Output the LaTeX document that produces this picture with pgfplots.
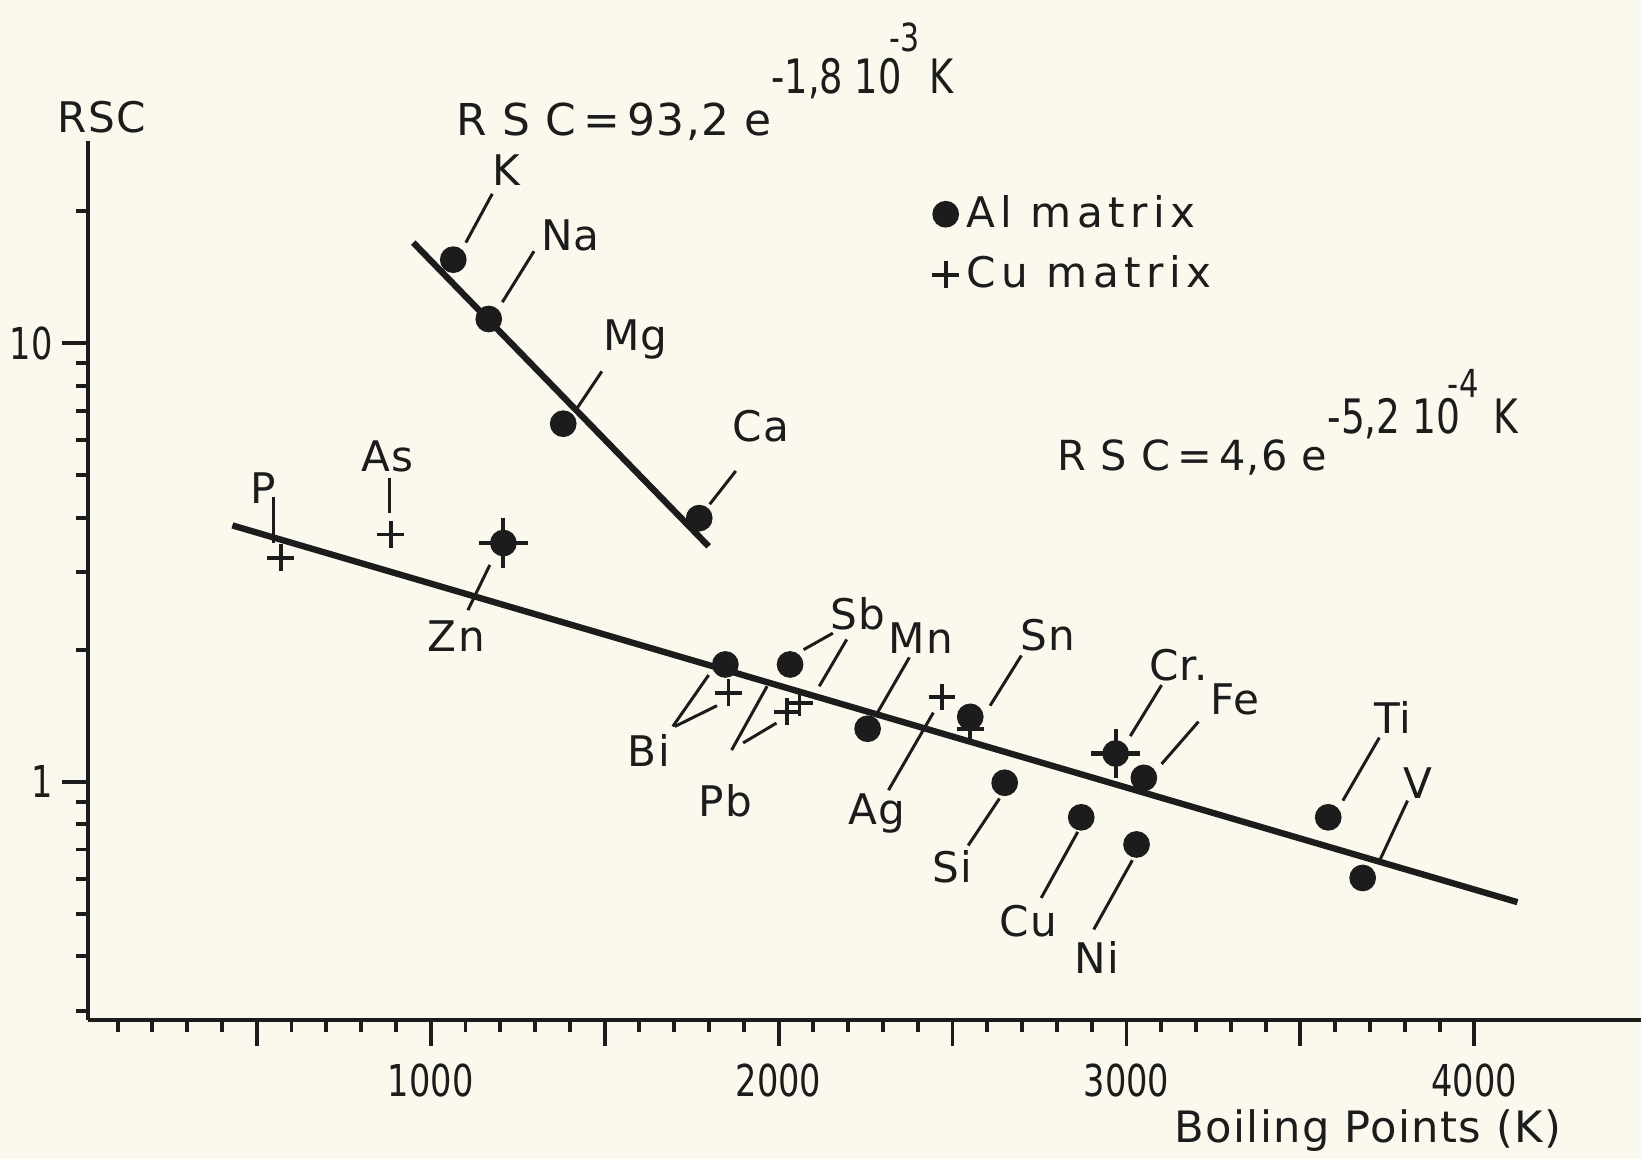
\documentclass[border=0pt]{standalone}
\usepackage{pgfplots}
\pgfplotsset{compat=1.18}
\usepackage{fontspec}
\setmainfont{DejaVu Sans}[LetterSpace=3]
\newfontfamily\narrow{DejaVu Sans Condensed}
\newfontfamily\wide{DejaVu Sans}[LetterSpace=13]
\definecolor{paper}{RGB}{251,249,238}
\definecolor{ink}{RGB}{28,28,28}
% tall, narrow figures as in the stencilled original
\newcommand\num[1]{\scalebox{0.85}[1]{\narrow\fontsize{12.5}{15}\selectfont #1}}

\begin{document}
\begin{tikzpicture}[font=\fontsize{12}{14}\selectfont]
% paper background, also the picture's extent
\path[use as bounding box, fill=paper] (-0.88cm,-1.39cm) rectangle (15.53cm,10.20cm);
\begin{axis}[
    at={(0,0)}, anchor=south west,
    scale only axis,
    width=15.53cm, height=8.79cm,
    ymode=log,
    xmin=15, xmax=4479,
    ymin=0.286, ymax=28.9,
    axis lines=left,
    axis line style={draw=ink, line width=1.4pt, -},
    tick align=outside,
    xtick={500,1000,...,4000},
    xticklabels={,\num{1000},,\num{2000},,\num{3000},,\num{4000}},
    minor xtick={100,200,...,3900},
    ytick={1,10},
    yticklabels={\num{1},\num{10}},
    minor ytick={0.3,0.4,0.5,0.6,0.7,0.8,0.9,2,3,4,5,6,7,8,9,20},
    major tick length=0.26cm,
    minor tick length=0.12cm,
    tick style={draw=ink, line width=1.1pt},
    tick label style={text=ink},
    xticklabel style={yshift=-0.06cm},
    yticklabel style={xshift=0.03cm},
    clip=false,
    legend cell align=left,
    legend style={at={(axis cs:2440,22.6)}, anchor=north west, draw=none, fill=none,
        font=\wide\fontsize{12}{14}\selectfont, text=ink, row sep=0.09cm, inner sep=0pt},
    legend image code/.code={\draw[#1] plot coordinates {(0.12cm,0cm)};},
]

% Al matrix
\addplot[only marks, mark=*, mark size=3.6pt, ink] coordinates {
    (1065,15.5) (1167,11.35) (1381,6.55) (1772,3.99) (1209,3.50)
    (1847,1.85) (2033,1.85) (2256,1.32) (2551,1.405) (2650,0.994)
    (2969,1.159) (3050,1.02) (2870,0.829) (3029,0.719) (3580,0.829)
    (3679,0.603)
};
\addlegendentry{Al matrix}

% Cu matrix
\addplot[only marks, mark=+, mark size=3.8pt, ink, line width=1.1pt] coordinates {
    (569,3.24) (885,3.66) (1856,1.595) (2025,1.444) (2060,1.51)
    (2470,1.56) (2551,1.32)
};
\addlegendentry{Cu matrix}

% Zn and Cr in both matrices
\addplot[only marks, mark=+, mark size=7pt, ink, line width=1.2pt, forget plot]
    coordinates {(1209,3.50) (2969,1.159)};

% fitted lines
\addplot[ink, line width=1.8pt, forget plot] coordinates {(950,16.95) (1799,3.44)};
\addplot[ink, line width=1.8pt, forget plot] coordinates {(430,3.84) (4124,0.531)};

% leader lines
\pgfplotsset{leader/.style={ink, line width=0.85pt, forget plot}}
\addplot[leader] coordinates {(1177,21.9) (1101,16.95)};   % K
\addplot[leader] coordinates {(1297,16.2) (1206,12.4)};    % Na
\addplot[leader] coordinates {(1492,8.62) (1417,7.03)};    % Mg
\addplot[leader] coordinates {(1877,5.11) (1802,4.29)};    % Ca
\addplot[leader] coordinates {(881,4.92) (881,4.10)};      % As
\addplot[leader] coordinates {(547,4.46) (547,3.50)};      % P
\addplot[leader] coordinates {(1107,2.46) (1170,3.12)};    % Zn
\addplot[leader] coordinates {(2072,2.00) (2156,2.18)};    % Sb
\addplot[leader] coordinates {(2117,1.65) (2196,2.11)};    % Sb
\addplot[leader] coordinates {(2286,1.444) (2376,1.92)};   % Mn
\addplot[leader] coordinates {(2316,0.956) (2445,1.437)};  % Ag
\addplot[leader] coordinates {(2608,1.49) (2698,1.94)};    % Sn
\addplot[leader] coordinates {(1696,1.336) (1799,1.75)};   % Bi
\addplot[leader] coordinates {(1702,1.336) (1823,1.49)};   % Bi
\addplot[leader] coordinates {(1865,1.18) (1967,1.65)};    % Pb
\addplot[leader] coordinates {(1898,1.225) (1994,1.36)};   % Pb
\addplot[leader] coordinates {(3101,1.66) (3011,1.27)};    % Cr
\addplot[leader] coordinates {(3207,1.37) (3101,1.097)};   % Fe
\addplot[leader] coordinates {(3727,1.26) (3622,0.905)};   % Ti
\addplot[leader] coordinates {(3808,0.905) (3724,0.651)};  % V
\addplot[leader] coordinates {(2545,0.715) (2635,0.915)};  % Si
\addplot[leader] coordinates {(2755,0.543) (2860,0.768)};  % Cu
\addplot[leader] coordinates {(2906,0.460) (3017,0.662)};  % Ni

% element labels
\node[text=ink] at (axis cs:1218,24.8) {K};
\node[text=ink] at (axis cs:1402,17.6) {Na};
\node[text=ink] at (axis cs:1588,10.2) {Mg};
\node[text=ink] at (axis cs:1949,6.48) {Ca};
\node[text=ink] at (axis cs:875,5.52) {As};
\node[text=ink] at (axis cs:520,4.68) {P};
\node[text=ink] at (axis cs:1074,2.15) {Zn};
\node[text=ink] at (axis cs:2229,2.42) {Sb};
\node[text=ink] at (axis cs:2409,2.12) {Mn};
\node[text=ink] at (axis cs:2774,2.16) {Sn};
\node[text=ink] at (axis cs:3150,1.84) {Cr.};
\node[text=ink] at (axis cs:3312,1.54) {Fe};
\node[text=ink] at (axis cs:3766,1.40) {Ti};
\node[text=ink] at (axis cs:3838,0.994) {V};
\node[text=ink] at (axis cs:1627,1.18) {Bi};
\node[text=ink] at (axis cs:1847,0.905) {Pb};
\node[text=ink] at (axis cs:2283,0.847) {Ag};
\node[text=ink] at (axis cs:2500,0.640) {Si};
\node[text=ink] at (axis cs:2719,0.481) {Cu};
\node[text=ink] at (axis cs:2915,0.397) {Ni};

% axis titles
\node[text=ink] at (axis cs:54,32.8) {RSC};
\node[text=ink, font=\fontsize{12.3}{14}\selectfont] at (axis cs:3694,0.160) {Boiling Points (K)};

% fitted equations
\node[text=ink, anchor=base west, inner sep=0pt, font=\fontsize{12.5}{15}\selectfont] at (axis cs:1072,29.7)
    {R S C\,=\,93,2 e\raisebox{0.42cm}{\scalebox{0.86}[1]{\narrow\fontsize{13.5}{15}\selectfont
     -1,8 10\kern-0.3em\raisebox{0.42cm}{\fontsize{11}{12}\selectfont -3}\kern0.25em K}}};
\node[text=ink, anchor=base west, inner sep=0pt, font=\fontsize{11.8}{15}\selectfont] at (axis cs:2800,5.11)
    {R S C\,=\,4,6 e\raisebox{0.37cm}{\scalebox{0.88}[1]{\narrow\fontsize{13.5}{15}\selectfont
     -5,2 10\kern-0.3em\raisebox{0.36cm}{\fontsize{11}{12}\selectfont -4}\kern0.35em K}}};

\end{axis}
\end{tikzpicture}
\end{document}
